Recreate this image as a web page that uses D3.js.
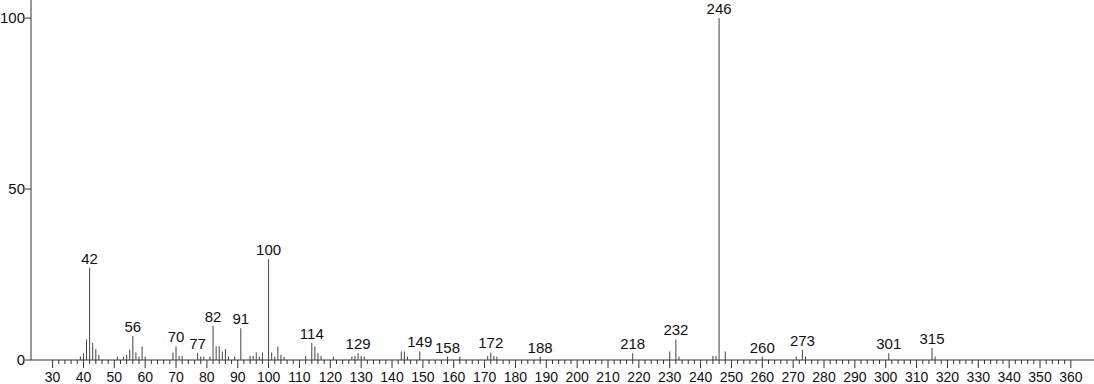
<!DOCTYPE html>
<html lang="en">
<head>
    <meta charset="UTF-8">
    <title>Mass Spectrum</title>
    <script src="https://d3js.org/d3.v7.min.js"></script>
    <style>
        body {
            margin: 0;
            background-color: white;
            font-family: "Liberation Sans", Arial, sans-serif;
        }
        svg text {
            font-family: "Liberation Sans", Arial, sans-serif;
            fill: #111;
        }
    </style>
</head>
<body>
    <div id="chart"></div>
    <script>
        // m/z values and relative intensities
        const mz = [39, 40, 41, 42, 43, 44, 45, 51, 53, 54, 55, 56, 57, 58, 59, 60,
                    69, 70, 71, 72, 77, 78, 79, 81, 82, 83, 84, 85, 86, 87, 89, 91,
                    94, 95, 96, 97, 98, 100, 101, 102, 103, 104, 105, 112, 114, 115, 116, 117, 121,
                    127, 128, 129, 130, 131, 143, 144, 145, 149, 158, 162, 171, 172, 173, 174,
                    188, 218, 230, 232, 233, 244, 245, 246, 248, 260, 271, 273, 274, 301, 315, 316];
        const intensity = [1, 2, 6, 27, 5, 3.2, 1.5, 1, 1, 1.5, 3, 7, 2.2, 1, 4, 1,
                           2.2, 4, 1.2, 1.2, 2.1, 1, 1, 1, 10, 4, 4, 2.5, 3.2, 1, 1, 9.3,
                           1.2, 1.2, 2.2, 1, 2.2, 29.5, 2.2, 1, 4, 1.5, 1, 1.2, 5, 4, 2, 1.2, 1,
                           1, 1.2, 2, 1.2, 1, 2.5, 2.5, 1, 2.5, 1, 1, 1.2, 2.2, 1.2, 1,
                           1, 2, 2.5, 6, 1, 1.2, 1.2, 100, 2.5, 1, 1, 3, 1, 2, 3.5, 1];
        const labelled = [42, 56, 70, 77, 82, 91, 100, 114, 129, 149, 158, 172, 188,
                          218, 232, 246, 260, 273, 301, 315];
        const yTicks = [0, 50, 100];

        const width = 1094, height = 384;

        const svg = d3.select("#chart")
          .append("svg")
            .attr("width", width)
            .attr("height", height);

        const x = d3.scaleLinear().domain([23, 367.5]).range([31, 1094]);
        const y = d3.scaleLinear().domain([0, 105.3]).range([360, 0]);

        const peaks = mz.map((m, i) => ({mz: m, value: intensity[i]}));

        // x axis: minor ticks every 2, labels every 10
        const xAxis = svg.append("g")
            .attr("transform", `translate(0,${y(0)})`);

        xAxis.append("line")
            .attr("x1", x.range()[0]).attr("x2", x.range()[1])
            .attr("stroke", "#333");

        const minor = d3.range(30, 361, 2);
        xAxis.selectAll(".minor")
            .data(minor)
            .enter().append("line")
            .attr("x1", d => x(d)).attr("x2", d => x(d))
            .attr("y1", 0)
            .attr("y2", d => d % 10 === 0 ? 8 : 4)
            .attr("stroke", "#333");

        xAxis.selectAll(".xlabel")
            .data(d3.range(30, 361, 10))
            .enter().append("text")
            .attr("x", d => x(d))
            .attr("y", 22)
            .attr("text-anchor", "middle")
            .style("font-size", "14px")
            .text(d => d);

        // y axis
        const yAxis = svg.append("g");
        yAxis.append("line")
            .attr("x1", x.range()[0]).attr("x2", x.range()[0])
            .attr("y1", y.range()[0]).attr("y2", y.range()[1])
            .attr("stroke", "#333");
        yAxis.selectAll(".ytick")
            .data(yTicks)
            .enter().append("line")
            .attr("x1", x.range()[0] - 6).attr("x2", x.range()[0])
            .attr("y1", d => y(d)).attr("y2", d => y(d))
            .attr("stroke", "#333");
        yAxis.selectAll(".ylabel")
            .data(yTicks)
            .enter().append("text")
            .attr("x", x.range()[0] - 6)
            .attr("y", d => y(d))
            .attr("dy", "0.35em")
            .attr("text-anchor", "end")
            .style("font-size", "15px")
            .text(d => d);

        // peaks
        svg.selectAll(".peak")
            .data(peaks)
            .enter().append("line")
            .attr("class", "peak")
            .attr("x1", d => x(d.mz)).attr("x2", d => x(d.mz))
            .attr("y1", y(0))
            .attr("y2", d => y(d.value))
            .attr("stroke", "#444")
            .attr("stroke-width", 1);

        // peak labels
        svg.selectAll(".plabel")
            .data(peaks.filter(d => labelled.includes(d.mz)))
            .enter().append("text")
            .attr("x", d => x(d.mz))
            .attr("y", d => y(d.value) - 4)
            .attr("text-anchor", "middle")
            .style("font-size", "15px")
            .text(d => d.mz);
    </script>
</body>
</html>
